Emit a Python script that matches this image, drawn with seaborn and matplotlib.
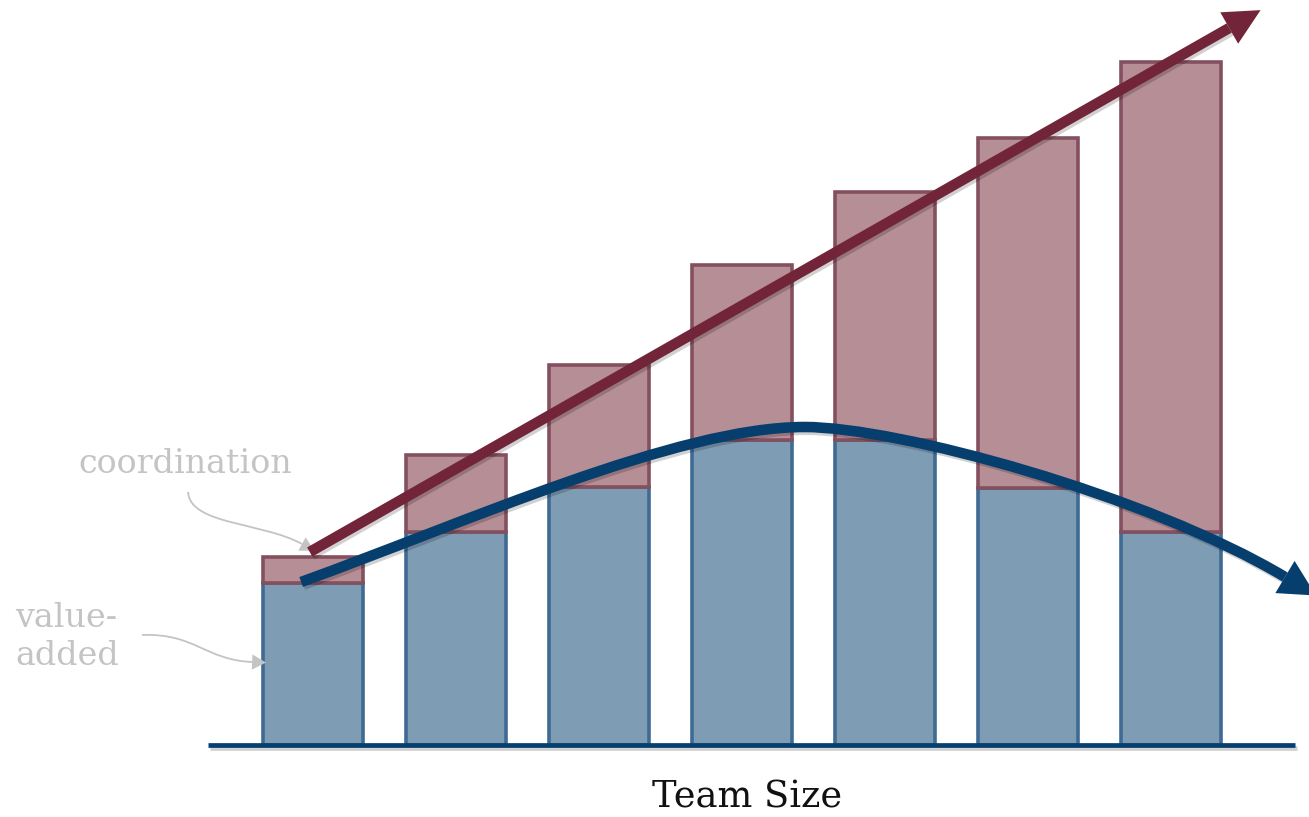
import numpy as np
import matplotlib
matplotlib.use("Agg")
import matplotlib.pyplot as plt
import matplotlib.patheffects as pe
from matplotlib.path import Path
from matplotlib.patches import PathPatch
import pandas as pd
import seaborn as sns

# ---- data -------------------------------------------------------------
team_size = ["2", "3", "4", "5", "6", "7", "8"]
value_added = [16.2, 21.3, 25.8, 30.5, 30.5, 25.7, 21.3]
coordination = [2.6, 7.7, 12.2, 17.5, 24.8, 35.0, 47.0]

# trend guides, in (category position, value)
coord_trend = [(-0.02, 19.3), (6.41, 71.7)]
value_trend = [(-0.08, 16.3), (1.08, 22.3), (2.55, 31.8), (3.44, 31.8),
               (4.09, 31.8), (5.84, 25.0), (6.80, 16.8)]

# callout pointers (cubic curves ending where the small head starts)
coord_pointer = [(-0.871, 25.3), (-0.857, 22.0), (-0.352, 22.3), (-0.074, 20.1)]
value_pointer = [(-1.193, 11.0), (-0.823, 11.2), (-0.752, 8.5), (-0.423, 8.3)]

# ---- style ------------------------------------------------------------
BLUE_FILL = "#7f9cb5"
BLUE_EDGE = "#3f6b93"
RED_FILL = "#b58e96"
RED_EDGE = "#84505f"
RED_LINE = "#722538"
BLUE_LINE = "#063f6e"
GRAY = "#c4c4c4"
SERIF = "DejaVu Serif"

sns.set_style("white")

fig = plt.figure(figsize=(13.09, 8.17), dpi=100)
ax = fig.add_axes([0, 0, 1, 1])

df = pd.DataFrame({"team_size": team_size,
                   "value_added": value_added,
                   "coordination": coordination})

sns.barplot(data=df, x="team_size", y="value_added", order=team_size,
            color=BLUE_FILL, saturation=1, width=0.70, errorbar=None,
            edgecolor=BLUE_EDGE, linewidth=2.6, zorder=2, ax=ax)
sns.barplot(data=df, x="team_size", y="coordination", order=team_size,
            color=RED_FILL, saturation=1, width=0.70, errorbar=None,
            edgecolor=RED_EDGE, linewidth=2.6, bottom=df["value_added"].values,
            zorder=2, ax=ax)

ax.set_xlim(-2.186, 6.968)
ax.set_ylim(-7.2, 74.5)
ax.axis("off")

shadow = [pe.SimpleLineShadow(offset=(1.5, -2), alpha=0.18), pe.Normal()]

# baseline
ax.axhline(0, xmin=208 / 1309, xmax=1295 / 1309, color=BLUE_LINE, lw=3.4,
           zorder=3, solid_capstyle="butt", path_effects=shadow)


def head(p_from, p_to, color, length_pt, half_width_pt, z):
    """Filled arrow head continuing the direction p_from -> p_to."""
    a = ax.transData.transform(p_from)
    b = ax.transData.transform(p_to)
    d = (b - a) / np.hypot(*(b - a))
    tip = ax.transData.inverted().transform(b + d * length_pt * fig.dpi / 72)
    ax.annotate("", xy=tip, xytext=p_to, zorder=z, annotation_clip=False,
                arrowprops=dict(arrowstyle=f"-|>,head_length={length_pt / 10},"
                                           f"head_width={half_width_pt / 10}",
                                mutation_scale=10, lw=0, color=color,
                                shrinkA=0, shrinkB=0))


def curve(points, color, lw, z, effects=None):
    codes = [Path.MOVETO] + [Path.CURVE4] * (len(points) - 1)
    patch = PathPatch(Path(points, codes), fill=False, edgecolor=color, lw=lw,
                      capstyle="butt", zorder=z, transform=ax.transData)
    if effects:
        patch.set_path_effects(effects)
    ax.add_patch(patch)


# value-added trend (rise then fall)
curve(value_trend, BLUE_LINE, 7.6, 5, shadow)
head(value_trend[-2], value_trend[-1], BLUE_LINE, 26, 13.5, 5)

# coordination trend (straight rise)
cx, cy = zip(*coord_trend)
ax.plot(cx, cy, color=RED_LINE, lw=7.6, solid_capstyle="butt", zorder=6,
        path_effects=shadow)
head(coord_trend[0], coord_trend[1], RED_LINE, 26, 13, 6)

# callout pointers
curve(coord_pointer, GRAY, 1.3, 4)
head(coord_pointer[-2], coord_pointer[-1], GRAY, 10, 5.5, 4)
curve(value_pointer, GRAY, 1.3, 4)
head(value_pointer[-2], value_pointer[-1], GRAY, 10, 5.5, 4)

# labels
W, H = 1309, 817
fig.text(78 / W, 1 - 473 / H, "coordination", family=SERIF, fontsize=24,
         color=GRAY, ha="left", va="baseline")
fig.text(15 / W, 1 - 627 / H, "value-", family=SERIF, fontsize=24,
         color=GRAY, ha="left", va="baseline")
fig.text(15 / W, 1 - 665 / H, "added", family=SERIF, fontsize=24,
         color=GRAY, ha="left", va="baseline")
fig.text(747 / W, 1 - 808 / H, "Team Size", family=SERIF, fontsize=26.5,
         color="#111111", ha="center", va="baseline")

fig.savefig("out.png", dpi=100)
